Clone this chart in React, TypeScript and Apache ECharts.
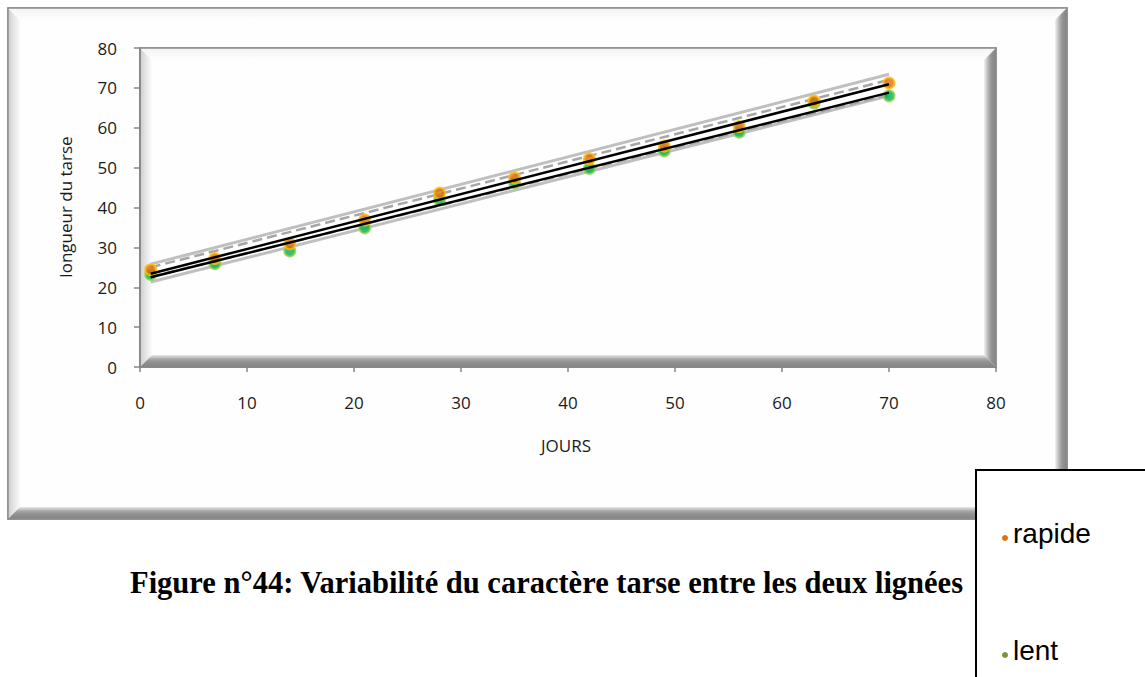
import React, { useEffect, useRef } from "react";
import * as echarts from "echarts";

// ---- data ----
const days = [1, 7, 14, 21, 28, 35, 42, 49, 56, 63, 70];
const rapide = [24.4, 27.2, 30.9, 36.9, 43.6, 47.4, 52.2, 55.4, 60.3, 66.7, 71.2];
const lent = [23.2, 25.9, 29.1, 34.9, 41.9, 46.2, 49.8, 54.2, 58.9, 66.2, 68.0];

const trendDays = [1, 70];
const rapideTrend = [23.4, 70.9];
const lentTrend = [22.5, 68.8];
const upperBound = [25.8, 73.4];
const upperDashed = [25.0, 72.0];
const lowerDashed = [22.6, 68.3];
const lowerBound = [21.3, 68.0];

const axisMin = 0;
const axisMax = 80;
const axisStep = 10;

const title = "Figure n°44: Variabilité du caractère tarse entre les deux lignées";
const xName = "JOURS";
const yName = "longueur du tarse";
const legendNames = ["rapide", "lent"];

const pairs = (xs: number[], ys: number[]) => xs.map((x, i) => [x, ys[i]]);

const FONT = "'Open Sans', 'Noto Sans', sans-serif";

function grad(x: number, y: number, x2: number, y2: number, stops: [number, string][]) {
  return new echarts.graphic.LinearGradient(
    x,
    y,
    x2,
    y2,
    stops.map(([offset, color]) => ({ offset, color }))
  );
}

// bevelled frame pieces
function bevelFrame(l: number, t: number, r: number, b: number, w: number, z: number) {
  return [
    {
      type: "rect",
      z,
      shape: { x: l, y: t, width: r - l, height: b - t },
      style: { fill: "#fefefe", stroke: "#8c8c8c", lineWidth: 1.5 },
    },
    {
      type: "polygon",
      z: z + 1,
      shape: { points: [[l, t], [l + w, t + w], [l + w, b - w], [l, b]] },
      style: { fill: grad(0, 0, 1, 0, [[0, "#cdcdcd"], [0.5, "#e6e6e6"], [1, "#fbfbfb"]]) },
    },
    {
      type: "polygon",
      z: z + 1,
      shape: { points: [[l, t], [r, t], [r - w, t + w], [l + w, t + w]] },
      style: { fill: grad(0, 0, 0, 1, [[0, "#f4f4f4"], [1, "#fefefe"]]) },
    },
    {
      type: "polygon",
      z: z + 1,
      shape: { points: [[r, t], [r, b], [r - w, b - w], [r - w, t + w]] },
      style: { fill: grad(0, 0, 1, 0, [[0, "#f2f2f2"], [0.35, "#b5b5b5"], [0.6, "#959595"], [1, "#828282"]]) },
    },
    {
      type: "polygon",
      z: z + 1,
      shape: { points: [[l, b], [r, b], [r - w, b - w], [l + w, b - w]] },
      style: { fill: grad(0, 0, 0, 1, [[0, "#e8e8e8"], [0.35, "#a5a5a5"], [0.6, "#909090"], [1, "#848484"]]) },
    },
    {
      type: "rect",
      z: z + 2,
      shape: { x: l, y: t, width: r - l, height: b - t },
      style: { fill: "none", stroke: "#8c8c8c", lineWidth: 1.5 },
    },
  ];
}

export default function App() {
  const ref = useRef<HTMLDivElement>(null);

  useEffect(() => {
    if (!ref.current) return;
    const chart = echarts.init(ref.current, undefined, { renderer: "svg" });

    const lineSeries = (
      name: string,
      ys: number[],
      color: string,
      width: number,
      type: string,
      z: number
    ) => ({
      name,
      type: "line",
      data: pairs(trendDays, ys),
      showSymbol: false,
      symbol: "none",
      silent: true,
      z,
      lineStyle: { color, width, type },
    });

    chart.setOption({
      animation: false,
      backgroundColor: "#ffffff",
      grid: { left: 140, top: 48, width: 856, height: 319, containLabel: false },
      xAxis: {
        type: "value",
        min: axisMin,
        max: axisMax,
        interval: axisStep,
        axisLine: { show: true, onZero: false, lineStyle: { color: "#868686", width: 1.5 } },
        axisTick: { show: true, length: 5, lineStyle: { color: "#868686", width: 1.5 } },
        axisLabel: { margin: 27, color: "#1a1a1a", fontSize: 17, fontFamily: FONT },
        splitLine: { show: false },
      },
      yAxis: {
        type: "value",
        min: axisMin,
        max: axisMax,
        interval: axisStep,
        axisLine: { show: true, lineStyle: { color: "#868686", width: 1.5 } },
        axisTick: { show: true, length: 6, lineStyle: { color: "#868686", width: 1.5 } },
        axisLabel: { margin: 23, color: "#1a1a1a", fontSize: 17, fontFamily: FONT },
        splitLine: { show: false },
      },
      graphic: [
        ...bevelFrame(8, 8, 1067, 519, 12, -30),
        ...bevelFrame(140, 48, 996, 367, 12, -20),
        {
          type: "text",
          z: 10,
          x: 65,
          y: 207,
          rotation: Math.PI / 2,
          style: {
            text: yName,
            fill: "#1a1a1a",
            font: `17px ${FONT}`,
            align: "center",
            verticalAlign: "middle",
          },
        },
        {
          type: "text",
          z: 10,
          x: 566,
          y: 445,
          style: {
            text: xName,
            fill: "#1a1a1a",
            font: `17px ${FONT}`,
            align: "center",
            verticalAlign: "middle",
          },
        },
        {
          type: "text",
          z: 10,
          x: 130,
          y: 583,
          style: {
            text: title,
            fill: "#000000",
            font: "bold 30.5px 'Liberation Serif', 'Times New Roman', serif",
            align: "left",
            verticalAlign: "middle",
          },
        },
        {
          type: "rect",
          z: 50,
          shape: { x: 976, y: 470, width: 250, height: 260 },
          style: { fill: "#ffffff", stroke: "#000000", lineWidth: 2 },
        },
        {
          type: "circle",
          z: 51,
          shape: { cx: 1005, cy: 538, r: 3 },
          style: { fill: "#E46C0A" },
        },
        {
          type: "text",
          z: 51,
          x: 1013,
          y: 533,
          style: {
            text: legendNames[0],
            fill: "#000000",
            font: "28px 'Liberation Sans', Arial, sans-serif",
            align: "left",
            verticalAlign: "middle",
          },
        },
        {
          type: "circle",
          z: 51,
          shape: { cx: 1005, cy: 655, r: 3 },
          style: { fill: "#77933C" },
        },
        {
          type: "text",
          z: 51,
          x: 1013,
          y: 650,
          style: {
            text: legendNames[1],
            fill: "#000000",
            font: "28px 'Liberation Sans', Arial, sans-serif",
            align: "left",
            verticalAlign: "middle",
          },
        },
      ],
      series: [
        lineSeries("borne sup", upperBound, "#bfbfbf", 3, "solid", 2),
        lineSeries("borne inf", lowerBound, "#bfbfbf", 3, "solid", 2),
        lineSeries("sup rapide", upperDashed, "#a6a6a6", 2.5, "dashed", 2),
        lineSeries("inf lent", lowerDashed, "#a6a6a6", 2.5, "dashed", 2),
        {
          name: "lent",
          type: "scatter",
          data: pairs(days, lent),
          symbol: "circle",
          symbolSize: 11,
          z: 3,
          itemStyle: { color: "#00B050", borderColor: "#92D050", borderWidth: 2 },
        },
        {
          name: "rapide",
          type: "scatter",
          data: pairs(days, rapide),
          symbol: "circle",
          symbolSize: 11,
          z: 3,
          itemStyle: { color: "#E46C0A", borderColor: "#FFC000", borderWidth: 2 },
        },
        lineSeries("tendance lent", lentTrend, "#000000", 2.5, "solid", 4),
        lineSeries("tendance rapide", rapideTrend, "#000000", 2.5, "solid", 4),
      ],
    });

    return () => chart.dispose();
  }, []);

  return (
    <div
      ref={ref}
      style={{ position: "absolute", left: 0, top: 0, width: 1145, height: 677 }}
    />
  );
}
